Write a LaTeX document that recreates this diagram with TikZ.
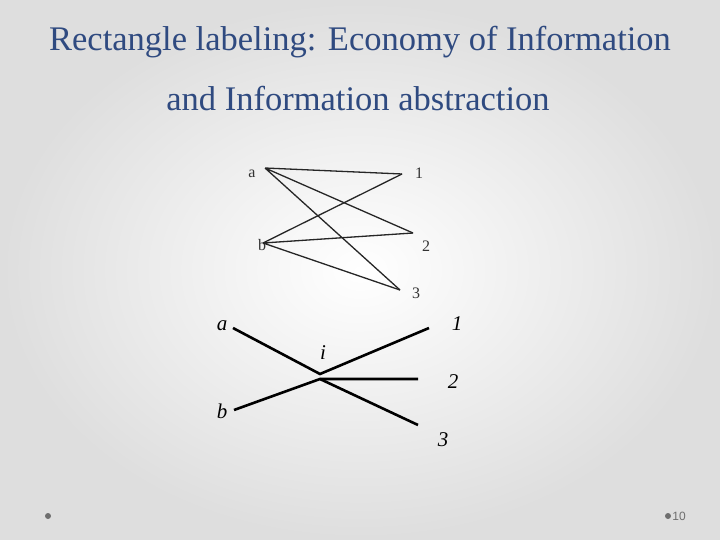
\documentclass[tikz,border=0pt]{standalone}
\usepackage{fontspec}
\setmainfont{Liberation Serif}
\newfontfamily\footfont{Liberation Sans}
\usetikzlibrary{positioning}
\definecolor{titleblue}{RGB}{47,74,128}
\definecolor{dotgray}{RGB}{110,110,110}

\begin{document}
\begin{tikzpicture}[x=1pt,y=-1pt]
	\tikzset{
		title/.style={text=titleblue,font=\fontsize{34.5}{36}\selectfont,inner sep=0pt},
		vlabel/.style={font=\fontsize{16}{17}\selectfont,inner sep=1pt,text=black!80},
		ilabel/.style={font=\fontsize{21}{22}\selectfont\itshape,inner sep=1pt},
		thin edge/.style={line width=1.3pt,draw=black!85},
		thick edge/.style={line width=2.6pt},
		footdot/.style={circle,fill=dotgray,inner sep=0pt,minimum size=6pt}
	}
	% slide background
	\shade[inner color=white,outer color=black!13] (0,0) rectangle (720,540);
	\useasboundingbox (0,0) rectangle (720,540);
	% title
	\node[title] (T1) at (360,42) {Rectangle labeling: Economy of Information};
	\node[title] (T2) at (358,99) {and Information abstraction};
	% full bipartite graph
	\node[vlabel] (A) at (252,174) {a};
	\node[vlabel] (B) at (262,245) {b};
	\node[vlabel] (N1) at (419,173) {1};
	\node[vlabel] (N2) at (426,246) {2};
	\node[vlabel] (N3) at (416,293) {3};
	\coordinate (Aend) at (265,168);
	\coordinate (Bend) at (263,243);
	\coordinate (N1end) at (402,174);
	\coordinate (N2end) at (413,233);
	\coordinate (N3end) at (400,290);
	\draw[thin edge] (Aend) -- (N1end) (Aend) -- (N2end) (Aend) -- (N3end);
	\draw[thin edge] (Bend) -- (N1end) (Bend) -- (N2end) (Bend) -- (N3end);
	% graph through the intermediate node i
	\node[ilabel] (a) at (222,326) {a};
	\node[ilabel] (b) at (222,411) {b};
	\node[ilabel] (i) at (323,353) {i};
	\node[ilabel] (n1) at (457,324) {1};
	\node[ilabel] (n2) at (453,382) {2};
	\node[ilabel] (n3) at (443,440) {3};
	\coordinate (aend) at (233,328);
	\coordinate (bend) at (234,410);
	\coordinate (itop) at (320,374);
	\coordinate (ibot) at (320,379);
	\coordinate (n1end) at (429,328);
	\coordinate (n2end) at (418,379);
	\coordinate (n3end) at (418,425);
	\draw[thick edge] (aend) -- (itop) -- (n1end);
	\draw[thick edge] (bend) -- (ibot) -- (n2end);
	\draw[thick edge] (ibot) -- (n3end);
	% footer
	\node[footdot] (d1) at (48,516) {};
	\node[footdot] (d2) at (668,516) {};
	\node[right=0pt of d2,inner sep=1pt,text=dotgray,font=\footfont\fontsize{12}{13}\selectfont] (pg) {10};
\end{tikzpicture}
\end{document}
